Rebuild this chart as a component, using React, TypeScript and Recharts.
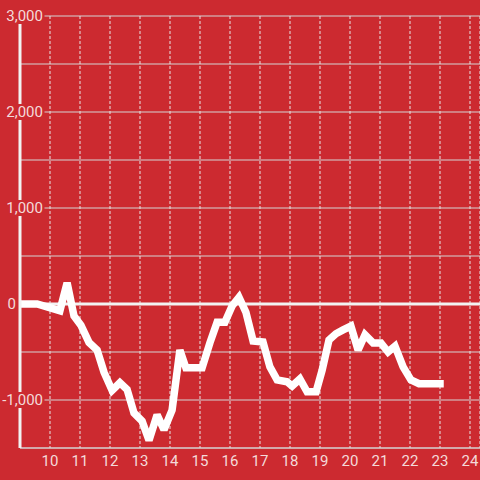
import React from "react";
import { LineChart, Line, XAxis, YAxis, CartesianGrid, ReferenceLine } from "recharts";

const hours = [
  9.0, 9.57, 10.33, 10.57, 10.8, 11.03, 11.3, 11.57, 11.8, 12.07, 12.33, 12.57, 12.8,
  13.07, 13.3, 13.57, 13.8, 14.07, 14.33, 14.53, 15.07, 15.33, 15.57, 15.83, 16.07,
  16.3, 16.53, 16.77, 17.1, 17.33, 17.57, 17.9, 18.07, 18.33, 18.57, 18.87, 19.07,
  19.3, 19.53, 19.77, 20.03, 20.27, 20.5, 20.77, 21.03, 21.27, 21.5, 21.77, 22.03,
  22.3, 23.0,
];
const values = [
  0, 0, -70, 220, -125, -220, -400, -480, -710, -900, -820, -890, -1135,
  -1220, -1420, -1155, -1310, -1105, -480, -665, -665, -405, -190, -190, -20,
  70, -85, -385, -395, -655, -790, -810, -855, -780, -915, -915, -690,
  -375, -310, -270, -230, -480, -320, -405, -405, -500, -440, -655, -790,
  -830, -830,
];
const xTicks = [10, 11, 12, 13, 14, 15, 16, 17, 18, 19, 20, 21, 22, 23, 24];
const yTicks = [-1500, -1000, -500, 0, 500, 1000, 1500, 2000, 2500, 3000];
const yLabelled = [-1000, 0, 1000, 2000, 3000];

const data = hours.map((h, i) => ({ h, v: values[i] }));

const BG = "#cc2a30";
const TEXT = "#f4dada";
const FONT = "Roboto, sans-serif";

function YTick(props: any) {
  const { y, payload } = props;
  const v = payload.value;
  if (!yLabelled.includes(v)) return <g />;
  const right = v === 0 ? 16 : 43;
  return (
    <g>
      <rect x={0} y={y - 8} width={right + 1.5} height={16} fill={BG} />
      <text x={right} y={y} dy="0.35em" textAnchor="end" fill={TEXT} fontSize={15} fontFamily={FONT}>
        {v.toLocaleString("en-US")}
      </text>
    </g>
  );
}

export default function App() {
  return (
    <div style={{ position: "absolute", left: 0, top: 0, width: 480, height: 480, background: BG }}>
      <LineChart width={480} height={480} data={data} margin={{ top: 16, right: 0, bottom: 0, left: 0 }}>
        <CartesianGrid horizontal={true} vertical={false} stroke="#d4d4d4" strokeWidth={1} />
        <CartesianGrid horizontal={false} vertical={true} stroke="#e6e6e6" strokeDasharray="3 2" />
        <XAxis
          dataKey="h"
          type="number"
          domain={[9, 73 / 3]}
          ticks={xTicks}
          allowDataOverflow
          height={32}
          tickSize={0}
          tickMargin={7}
          tickLine={false}
          axisLine={{ stroke: "#d4d4d4", strokeWidth: 1 }}
          tick={{ fill: TEXT, fontSize: 15, fontFamily: FONT }}
        />
        <YAxis
          type="number"
          domain={[-1500, 3000]}
          ticks={yTicks}
          width={20}
          tickSize={0}
          tickLine={false}
          axisLine={{ stroke: "#f2f2f2", strokeWidth: 3 }}
          tick={<YTick />}
          interval={0}
        />
        <ReferenceLine y={0} stroke="#f2f2f2" strokeWidth={3} />
        <Line
          type="linear"
          dataKey="v"
          stroke="#ffffff"
          strokeWidth={7.5}
          strokeLinecap="square"
          strokeLinejoin="miter"
          strokeMiterlimit={2}
          dot={false}
          activeDot={false}
          isAnimationActive={false}
        />
      </LineChart>
    </div>
  );
}
